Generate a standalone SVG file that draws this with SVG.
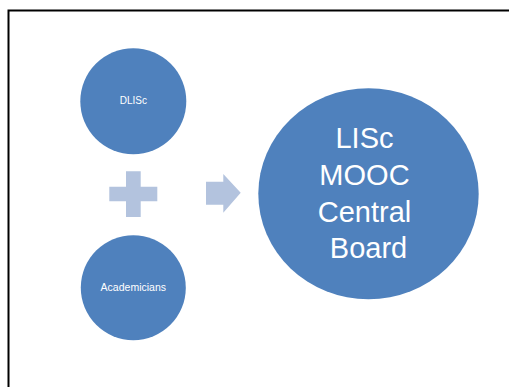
<svg xmlns="http://www.w3.org/2000/svg" width="509" height="387" viewBox="0 0 509 387">
<style>
.node{fill:#4F81BD}
.sym{fill:#B3C3DE}
.t{fill:#FFFFFF;font-family:"Liberation Sans","Open Sans",sans-serif;text-anchor:middle}
</style>
<rect x="0" y="0" width="509" height="387" fill="#FFFFFF"/>
<rect x="8.5" y="10.5" width="520" height="400" fill="none" stroke="#000000" stroke-width="2"/>
<g id="connectors">
<path class="sym" d="M126,171.3 H140.7 V186.7 H157.3 V201.3 H140.7 V217 H126 V201.3 H109.3 V186.7 H126 Z"/>
<path class="sym" d="M206,181.7 H223.3 V174 L240.7,192.7 L223.3,212.7 V204.7 H206 Z"/>
</g>
<g id="dlisc">
<circle class="node" cx="133.3" cy="101.3" r="53"/>
<text class="t" x="133.3" y="104" font-size="10">DLISc</text>
</g>
<g id="academicians">
<circle class="node" cx="133.3" cy="287.7" r="52.5"/>
<text class="t" x="133.3" y="291" font-size="10.5">Academicians</text>
</g>
<g id="board">
<ellipse class="node" cx="368.5" cy="193.8" rx="110.2" ry="105.5"/>
<text class="t" font-size="29">
<tspan x="368.5" y="148">LISc</tspan>
<tspan x="368.5" y="185">MOOC</tspan>
<tspan x="368.5" y="221.7">Central</tspan>
<tspan x="368.5" y="257.5">Board</tspan>
</text>
</g>
</svg>
